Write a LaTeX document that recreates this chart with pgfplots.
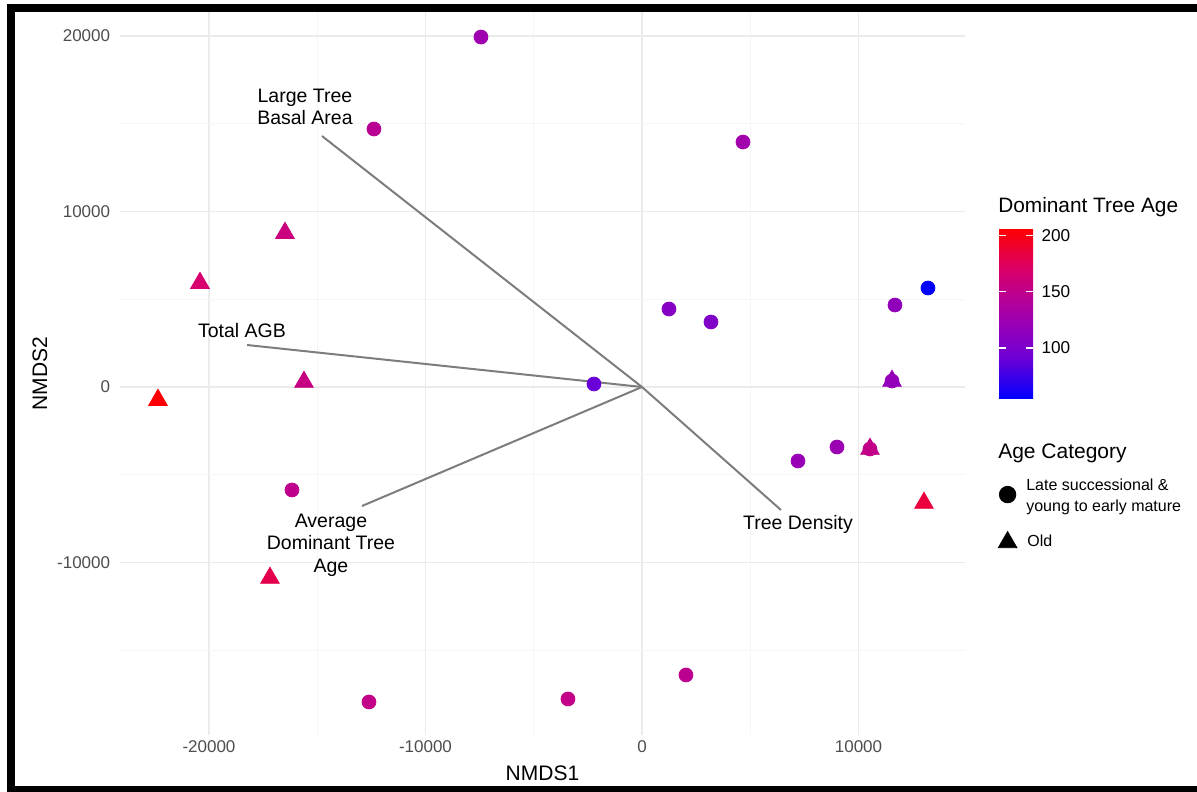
\documentclass[border=0pt]{standalone}
\usepackage{pgfplots}
\usepackage{pgfplotstable}
\pgfplotsset{compat=1.18}
\usepackage{fontspec}
\setmainfont{Liberation Sans}
\definecolor{gridmaj}{RGB}{235,235,235}
\definecolor{gridmin}{RGB}{246,246,246}
\definecolor{ticklab}{RGB}{77,77,77}
\definecolor{vec}{RGB}{125,125,125}
\pgfplotsset{colormap={bluered}{rgb255(0pt)=(0,0,255); rgb255(1pt)=(112,0,212); rgb255(2pt)=(165,0,170); rgb255(3pt)=(215,0,110); rgb255(4pt)=(255,0,0)}}

\pgfplotstableread{
x y age
-7437 19943 125
-12379 14701 145
4665 13960 128
1247 4444 108
3187 3704 104
13210 5641 55
11686 4672 115
-2217 171 90
11548 342 118
-16166 -5869 150
7206 -4217 120
9007 -3419 123
10531 -3533 150
-12610 -17949 152
-3418 -17778 152
2032 -16410 147
}\circles

\pgfplotstableread{
x y age
-16490 8775 158
-20416 5926 168
-15612 285 155
-22356 -741 205
11548 342 118
10531 -3533 152
13026 -6610 185
-17183 -10883 180
}\triangles

\begin{document}
\begin{tikzpicture}
\path[use as bounding box] (-72pt,-34.2pt) rectangle (646.2pt,441pt);
\fill[black] (-67.8pt,433.8pt) rectangle (646.2pt,438.6pt);
\fill[black] (-67.8pt,-34.2pt) rectangle (-63pt,438.6pt);
\fill[black] (-67.8pt,-34.2pt) rectangle (646.2pt,-30.6pt);
\begin{axis}[
  at={(0pt,0pt)}, anchor=south west,
  width=507pt, height=433.8pt, scale only axis,
  xmin=-24110, xmax=14920, ymin=-19830, ymax=21370,
  axis line style={draw=none}, tick style={draw=none},
  xtick={-20000,-10000,0,10000}, ytick={-10000,0,10000,20000},
  minor xtick={-15000,-5000,5000}, minor ytick={-15000,-5000,5000,15000},
  grid=both,
  major grid style={gridmaj, line width=0.8pt},
  minor grid style={gridmin, line width=0.5pt},
  scaled ticks=false,
  /pgf/number format/assume math mode=true,
  /pgf/number format/1000 sep={},
  /pgf/number format/fixed,
  ticklabel style={font=\fontsize{10.2}{12}\selectfont, text=ticklab},
  yticklabel style={xshift=-2.4pt},
  xlabel={NMDS1}, ylabel={NMDS2},
  label style={font=\fontsize{12.6}{15}\selectfont},
  xlabel style={at={(axis description cs:0.5,-0.0526)}, anchor=center},
  ylabel style={at={(axis description cs:-0.0947,0.5)}, anchor=center, rotate=0},
  colormap name=bluered,
  point meta min=54.5, point meta max=206,
  colorbar,
  colorbar/width=20.4pt,
  colorbar style={
    at={(parent axis.north east)}, anchor=north west,
    xshift=12pt, yshift=-130.2pt,
    height=102pt,
    ytick={100,150,200},
    axis line style={draw=none},
    axis on top,
    tick align=inside, yticklabel pos=right, ytick pos=both,
    major tick length=4.2pt,
    tick style={draw=white, line width=0.8pt},
    yticklabel style={font=\fontsize{10.3}{12}\selectfont, text=black, xshift=1.5pt},
    /pgf/number format/assume math mode=true,
  },
  legend style={at={(axis description cs:1.033,0.369)}, anchor=north west,
    draw=none, fill=none, font=\fontsize{9.6}{12.8}\selectfont, row sep=8.5pt},
  legend cell align=left,
  clip=false,
]
\addplot[vec, line width=1.2pt, forget plot] coordinates {(0,0) (-14781,14302)};
\addplot[vec, line width=1.2pt, forget plot] coordinates {(0,0) (-18245,2393)};
\addplot[vec, line width=1.2pt, forget plot] coordinates {(0,0) (-12933,-6781)};
\addplot[vec, line width=1.2pt, forget plot] coordinates {(0,0) (6421,-7009)};

\addplot[scatter, only marks, mark=*, mark size=4.2pt, point meta=explicit, forget plot,
  scatter/use mapped color={draw=mapped color, fill=mapped color}]
  table[x=x, y=y, meta=age]{\circles};
\addplot[scatter, only marks, mark=triangle*, mark size=6.5pt, point meta=explicit, forget plot,
  scatter/use mapped color={draw=mapped color, fill=mapped color}]
  table[x=x, y=y, meta=age]{\triangles};

\addlegendimage{only marks, mark=*, mark size=5pt, black}
\addlegendentry{{\hspace{3.6pt}\begin{tabular}[b]{@{}l@{}}Late successional \&\\young to early mature\end{tabular}}}
\addlegendimage{only marks, mark=triangle*, mark size=6.5pt, black}
\addlegendentry{{\hspace{4.2pt}Old}}

\begin{scope}[font=\fontsize{11.7}{13.6}\selectfont]
\node[align=center] at (axis cs:-15566,15954) {Large Tree\\Basal Area};
\node[align=center] at (axis cs:-18476,3191) {Total AGB};
\node[align=center] at (axis cs:-14365,-9003) {Average\\Dominant Tree\\Age};
\node[align=center] at (axis cs:7206,-7806) {Tree Density};
\end{scope}

\node[anchor=west, font=\fontsize{12.5}{14}\selectfont, inner sep=0pt] at (axis description cs:1.039,0.730) {Dominant Tree Age};
\node[anchor=west, font=\fontsize{12.6}{14}\selectfont, inner sep=0pt] at (axis description cs:1.039,0.390) {Age Category};
\end{axis}
\end{tikzpicture}
\end{document}
